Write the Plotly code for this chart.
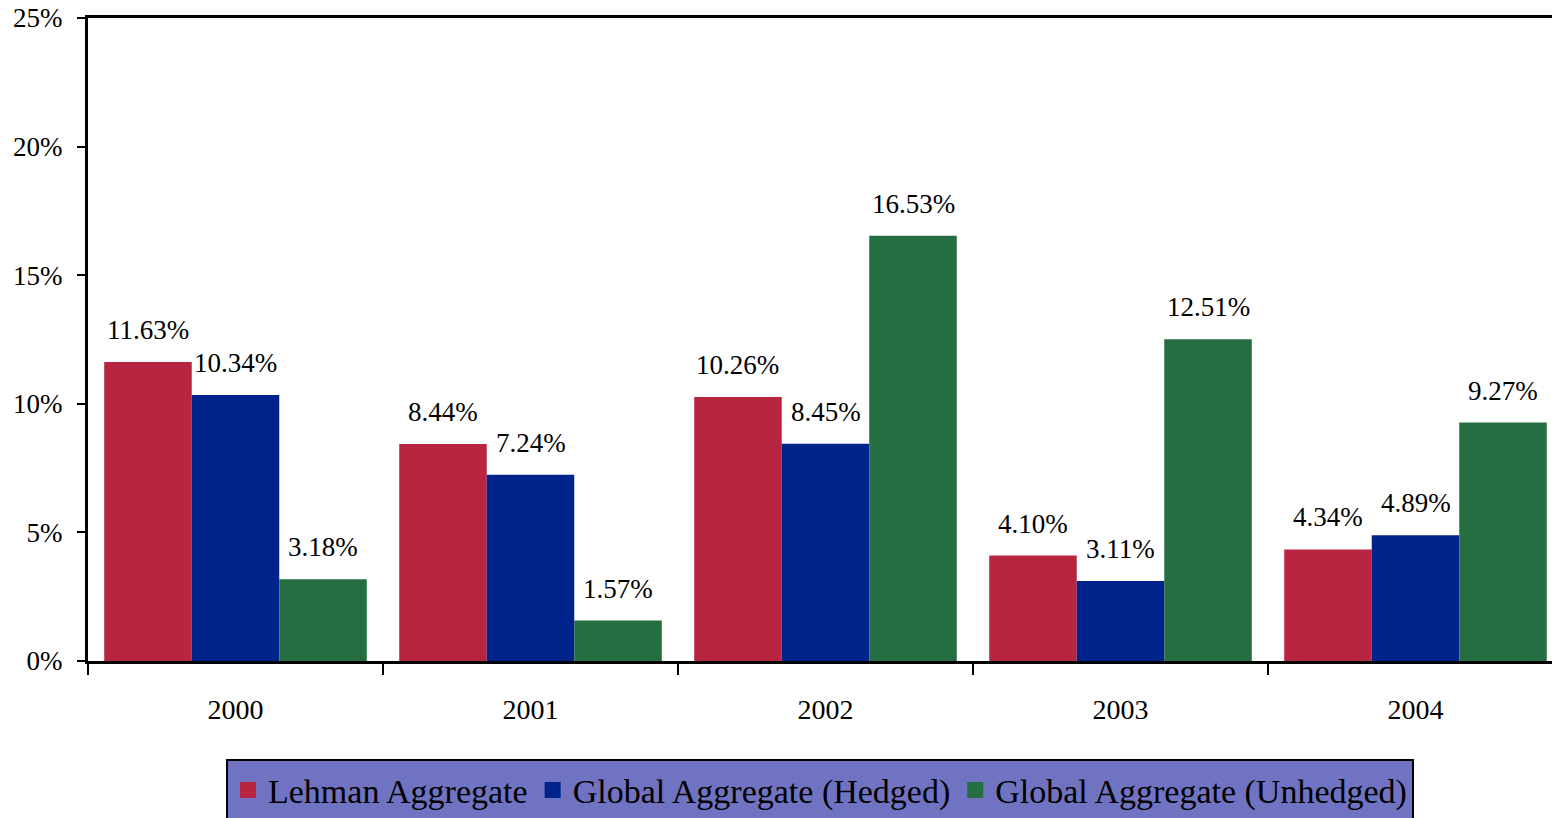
import plotly.graph_objects as go

years = ["2000", "2001", "2002", "2003", "2004"]
series_names = ["Lehman Aggregate", "Global Aggregate (Hedged)", "Global Aggregate (Unhedged)"]
lehman = [11.63, 8.44, 10.26, 4.10, 4.34]
hedged = [10.34, 7.24, 8.45, 3.11, 4.89]
unhedged = [3.18, 1.57, 16.53, 12.51, 9.27]
colors = ["#B82541", "#00238C", "#246E42"]

values = [lehman, hedged, unhedged]
FONT = "Liberation Serif, Times New Roman, serif"
bargap = 0.11
n = len(values)
bw = (1 - bargap) / n

fig = go.Figure()
for name, vals, col in zip(series_names, values, colors):
    fig.add_trace(go.Bar(x=years, y=vals, name=name, marker=dict(color=col, line=dict(width=0)),
                         showlegend=False))
    fig.add_trace(go.Scatter(x=[None], y=[None], mode="markers", name=name,
                             marker=dict(symbol="square", size=16, color=col)))

annotations = []
for k, vals in enumerate(values):
    off = (k - (n - 1) / 2) * bw
    for i, v in enumerate(vals):
        annotations.append(dict(x=i + off, y=v, xref="x", yref="y", text=f"{v:.2f}%",
                                showarrow=False, yanchor="middle", yshift=32,
                                font=dict(family=FONT, size=27, color="black")))

fig.update_layout(
    width=1552, height=818,
    margin=dict(l=88, r=0, t=18, b=157, autoexpand=False),
    paper_bgcolor="white", plot_bgcolor="white",
    barmode="group", bargap=bargap, bargroupgap=0,
    font=dict(family=FONT, size=27, color="black"),
    annotations=annotations,
    showlegend=True,
    legend=dict(orientation="h", x=0.5, xanchor="center", y=-0.153, yanchor="top",
                bgcolor="#7073C1", bordercolor="black", borderwidth=2,
                font=dict(family=FONT, size=34, color="black"),
                itemwidth=30, tracegroupgap=0),
)
fig.update_xaxes(type="category", range=[-0.5, 4.5 - 11 / 295], automargin=False,
                 showline=True, linecolor="black", linewidth=3, mirror=True,
                 ticks="outside", tickson="boundaries", ticklen=11, tickwidth=2, tickcolor="black",
                 ticklabelstandoff=21, showgrid=False, zeroline=False,
                 tickfont=dict(family=FONT, size=28, color="black"))
fig.update_yaxes(range=[0, 25], tickvals=[0, 5, 10, 15, 20, 25], automargin=False,
                 ticktext=["0%", "5%", "10%", "15%", "20%", "25%"],
                 showline=True, linecolor="black", linewidth=3,
                 ticks="outside", ticklen=8, tickwidth=2, tickcolor="black",
                 ticklabelstandoff=9, ticklabeloverflow="allow",
                 showgrid=False, zeroline=False,
                 tickfont=dict(family=FONT, size=27, color="black"))

fig.write_html("out.html", config={"displayModeBar": False},
               post_script="document.body.style.margin='0';document.body.style.overflow='hidden';")
